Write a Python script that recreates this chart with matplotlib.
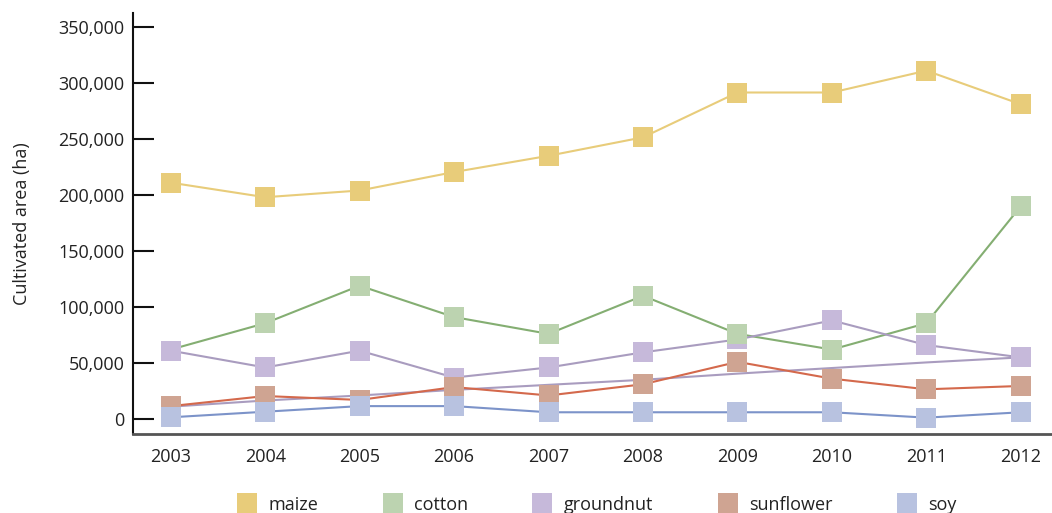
import matplotlib.pyplot as plt
from matplotlib.lines import Line2D
from matplotlib.ticker import FuncFormatter

plt.rcParams['font.family'] = ['Open Sans', 'DejaVu Sans']

years = [2003, 2004, 2005, 2006, 2007, 2008, 2009, 2010, 2011, 2012]

maize = [211000, 198000, 204000, 220500, 235000, 251500, 291500, 291500, 311000, 281000]
cotton = [62000, 85500, 119000, 91000, 76000, 110000, 76000, 62000, 85500, 190000]
groundnut = [61000, 46000, 61000, 37000, 46000, 59500, 71000, 88000, 66000, 55000]
sunflower = [11500, 20500, 17000, 28500, 21000, 31000, 51000, 36000, 26500, 29500]
soy = [1500, 6500, 11500, 11500, 6000, 6000, 6000, 6000, 1200, 6000]
# extra grey-purple line in the source chart, no legend entry
trend = [11000, 16500, 21000, 26000, 30500, 35000, 40500, 45500, 50500, 55000]

series = [
    ("maize", maize, "#E8CC7A", "#E8CC7A", 4.4),
    ("cotton", cotton, "#BCD3B0", "#84AE72", 4.1),
    ("groundnut", groundnut, "#C6B9DA", "#A99CBF", 4.0),
    ("sunflower", sunflower, "#CFA492", "#D4694C", 4.2),
    ("soy", soy, "#B8C2E0", "#7C93C9", 4.3),
]

fig = plt.figure(figsize=(10.52, 5.13), dpi=100)
ax = fig.add_axes([0.1264, 0.154, 0.8736, 0.8207])

ax.plot(years, trend, color="#A99CBF", linewidth=1.5, zorder=3)
for name, vals, mc, lc, z in series:
    ax.plot(years, vals, color=lc, linewidth=1.5, zorder=3)
    every = range(1, len(years)) if name == "cotton" else None
    ax.plot(years, vals, linestyle="none", marker="s", markersize=15,
            markerfacecolor=mc, markeredgewidth=0, markevery=every, zorder=z)

ax.set_xlim(2002.6, 2012.33)
ax.set_ylim(-13400, 362500)
ax.set_xticks(years)
ax.set_yticks(range(0, 350001, 50000))
ax.yaxis.set_major_formatter(FuncFormatter(lambda v, p: f"{int(v):,}"))

for s in ["top", "right"]:
    ax.spines[s].set_visible(False)
ax.spines["left"].set_color("#111111")
ax.spines["left"].set_linewidth(1.5)
ax.spines["bottom"].set_color("#555555")
ax.spines["bottom"].set_linewidth(2)

ax.tick_params(axis="y", direction="in", length=15, width=1.5, color="#111111",
               pad=6, labelsize=13, labelcolor="#222222")
ax.tick_params(axis="x", length=0, pad=10, labelsize=13, labelcolor="#222222")
ax.set_ylabel("Cultivated area (ha)", fontsize=13, color="#222222", labelpad=20)

handles = [Line2D([], [], linestyle="none", marker="s", markersize=15,
                  markerfacecolor=mc, markeredgewidth=0)
           for name, vals, mc, lc, z in series]
fig.legend(handles, [s[0] for s in series], loc="center", ncol=5,
           bbox_to_anchor=(0.567, 0.016), frameon=False, fontsize=13,
           handlelength=1.2, handletextpad=0.6, columnspacing=3.5,
           labelcolor="#222222")

fig.savefig("out.png", dpi=100)
